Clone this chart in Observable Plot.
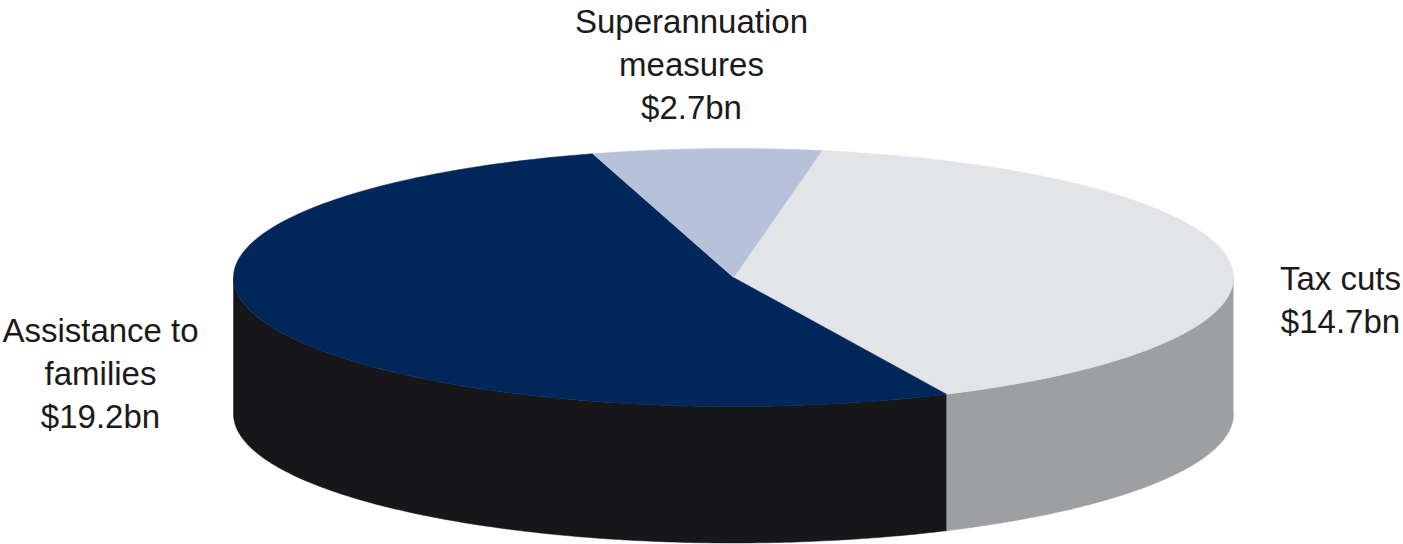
<!DOCTYPE html>
<html>
<head>
<meta charset="utf-8">
<script src="https://cdn.jsdelivr.net/npm/d3@7"></script>
<script src="https://cdn.jsdelivr.net/npm/@observablehq/plot@0.6"></script>
<style>
html,body{margin:0;padding:0;background:#fff}
svg{display:block}
</style>
</head>
<body>
<div id="chart"></div>
<script>
// Values in $bn, clockwise from the first slice
const categories = ["Tax cuts", "Assistance to families", "Superannuation measures"];
const values = [14.7, 19.2, 2.7];
const valueLabels = ["$14.7bn", "$19.2bn", "$2.7bn"];
const labelLines = [["Tax cuts"], ["Assistance to", "families"], ["Superannuation", "measures"]];
const topColors = ["#e2e4e7", "#00265a", "#b8c1da"];
const wallColors = ["#9d9fa2", "#17171a", "none"];

// Label anchors in pie units (1 = horizontal radius)
const labelX = [1.214, -1.266, -0.084];
const labelY = [0.04, 0.187, -0.43];

const startDeg = 10.2;      // rotation of the first slice
const tilt = 0.258;         // vertical squash of the ellipse
const depth = 0.273;        // wall height

const pie = d3.pie().sort(null).startAngle(startDeg * Math.PI / 180)
  .endAngle((startDeg + 360) * Math.PI / 180)(values);

const px = a => Math.sin(a);
const py = a => -Math.cos(a) * tilt;
const arcAngles = (a0, a1) => d3.range(0, 181).map(i => a0 + (a1 - a0) * i / 180);

const tops = [], walls = [];
pie.forEach((s, i) => {
  const c = categories[i];
  tops.push({c, i, x: 0, y: 0});
  for (const a of arcAngles(s.startAngle, s.endAngle)) tops.push({c, i, x: px(a), y: py(a)});
  tops.push({c, i, x: 0, y: 0});
  // Visible wall: front half of the ellipse (PI/2 .. 3PI/2)
  if (wallColors[i] !== "none") {
    const a0 = Math.max(s.startAngle, Math.PI / 2), a1 = Math.min(s.endAngle, 3 * Math.PI / 2);
    const as = arcAngles(a0, a1);
    for (const a of as) walls.push({c, i, x: px(a), y: py(a)});
    for (const a of as.slice().reverse()) walls.push({c, i, x: px(a), y: py(a) + depth});
  }
});

const texts = categories.map((c, i) => ({
  x: labelX[i], y: labelY[i],
  t: [...labelLines[i], valueLabels[i]].join("\n")
}));

const chart = Plot.plot({
  width: 1403, height: 544,
  margin: 0,
  x: {domain: [-733 / 500, 670 / 500], axis: null},
  y: {domain: [-277 / 500, 267 / 500], reverse: true, axis: null},
  style: {background: "#fff"},
  marks: [
    Plot.line(walls, {x: "x", y: "y", z: "c", fill: d => wallColors[d.i], stroke: d => wallColors[d.i], strokeWidth: 0.5, curve: "linear"}),
    Plot.line(tops, {x: "x", y: "y", z: "c", fill: d => topColors[d.i], stroke: d => topColors[d.i], strokeWidth: 0.5, curve: "linear"}),
    Plot.text(texts, {x: "x", y: "y", text: "t", lineHeight: 1.3, fontSize: 33, fill: "#1a1a1a", fontFamily: "Liberation Sans", textAnchor: "middle"})
  ]
});
document.getElementById("chart").appendChild(chart);
</script>
</body>
</html>
